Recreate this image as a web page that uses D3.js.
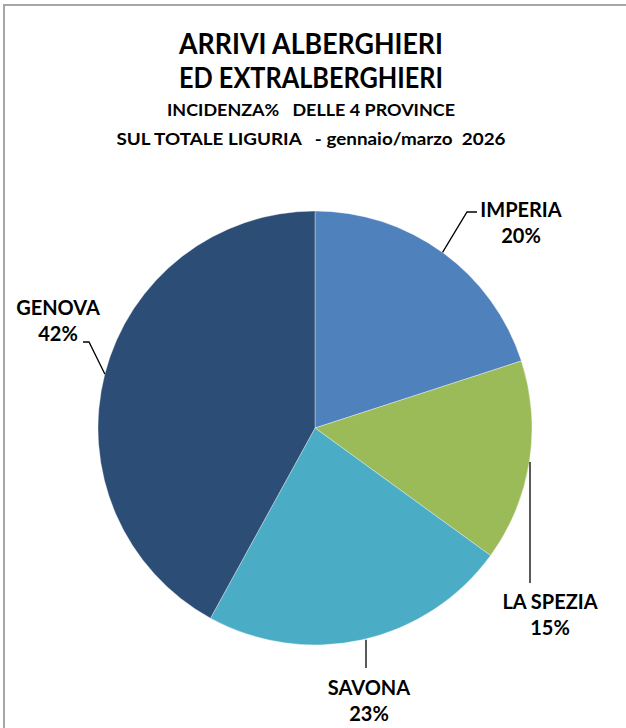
<!DOCTYPE html>
<html>
<head>
<meta charset="utf-8">
<script src="https://cdn.jsdelivr.net/npm/d3@7"></script>
<style>
	html, body { margin: 0; padding: 0; background: #fff; }
	svg { display: block; }
	text { font-family: Lato, "Open Sans", sans-serif; font-weight: bold; fill: #000; }
</style>
</head>
<body>
<div id="chart"></div>
<script>
	"use strict";

	// data
	var provinces = ["IMPERIA", "LA SPEZIA", "SAVONA", "GENOVA"];
	var shares = [20, 15, 23, 42];
	var sliceColors = ["#4f81bd", "#9bbb59", "#4bacc6", "#2c4d75"];
	var titleLines = ["ARRIVI ALBERGHIERI", "ED EXTRALBERGHIERI"];
	var subtitleLines = ["INCIDENZA%\u00a0\u00a0 DELLE 4 PROVINCE", "SUL TOTALE LIGURIA \u00a0 - gennaio/marzo\u00a0 2026"];

	var width = 626,
		height = 728;
	var cx = 315,
		cy = 428,
		radius = 217;

	var svg = d3.select("#chart").append("svg")
		.attr("width", width)
		.attr("height", height);

	// frame (right / bottom edges fall outside the picture)
	svg.append("rect")
		.attr("x", 4)
		.attr("y", 5)
		.attr("width", width + 20)
		.attr("height", height + 20)
		.attr("fill", "none")
		.attr("stroke", "#a6a6a6")
		.attr("stroke-width", 2);

	// titles
	var titles = [
		{text: titleLines[0], y: 54, size: 29, w: 264},
		{text: titleLines[1], y: 88, size: 29, w: 264},
		{text: subtitleLines[0], y: 116, size: 17.5, w: 288},
		{text: subtitleLines[1], y: 145, size: 17.5, w: 389}
	];
	svg.selectAll("text.title")
		.data(titles)
		.enter()
		.append("text")
		.attr("class", "title")
		.attr("x", 311)
		.attr("y", function(d) { return d.y; })
		.attr("text-anchor", "middle")
		.style("font-size", function(d) { return d.size + "px"; })
		.attr("textLength", function(d) { return d.w; })
		.attr("lengthAdjust", "spacingAndGlyphs")
		.text(function(d) { return d.text; });

	var pie = d3.pie().sort(null).value(function(d) { return d; });
	var arcs = pie(shares);
	var arc = d3.arc().innerRadius(0).outerRadius(radius);

	var g = svg.append("g").attr("transform", "translate(" + cx + "," + cy + ")");

	g.selectAll("path")
		.data(arcs)
		.enter()
		.append("path")
		.attr("d", arc)
		.attr("fill", function(d, i) { return sliceColors[i]; })
		.attr("stroke", "rgba(255,255,255,0.45)")
		.attr("stroke-width", 0.8);

	// label placement (layout only)
	var labelLayout = [
		{lx: 521, ly: 217, bend: [467, 212], end: [477, 212]},
		{lx: 550, ly: 609, bend: null, end: [530, 583]},
		{lx: 369, ly: 695, bend: null, end: [366, 668]},
		{lx: 58, ly: 315, bend: [89, 342], end: [83, 342]}
	];

	function edgePoint(d) {
		var a = (d.startAngle + d.endAngle) / 2;
		return [cx + radius * Math.sin(a), cy - radius * Math.cos(a)];
	}

	var line = d3.line();
	svg.selectAll("path.leader")
		.data(arcs)
		.enter()
		.append("path")
		.attr("class", "leader")
		.attr("fill", "none")
		.attr("stroke", "#000")
		.attr("stroke-width", 1.3)
		.attr("d", function(d, i) {
			var lay = labelLayout[i];
			var p = edgePoint(d);
			if (lay.bend) return line([p, lay.bend, lay.end]);
			return line([[lay.end[0], p[1]], lay.end]);
		});

	var labels = svg.selectAll("g.label")
		.data(arcs)
		.enter()
		.append("g")
		.attr("class", "label");

	labels.append("text")
		.attr("x", function(d, i) { return labelLayout[i].lx; })
		.attr("y", function(d, i) { return labelLayout[i].ly; })
		.attr("text-anchor", "middle")
		.style("font-size", "20px")
		.text(function(d, i) { return provinces[i]; });

	labels.append("text")
		.attr("x", function(d, i) { return labelLayout[i].lx; })
		.attr("y", function(d, i) { return labelLayout[i].ly + 26; })
		.attr("text-anchor", "middle")
		.style("font-size", "20px")
		.text(function(d) { return d.data + "%"; });
</script>
</body>
</html>
